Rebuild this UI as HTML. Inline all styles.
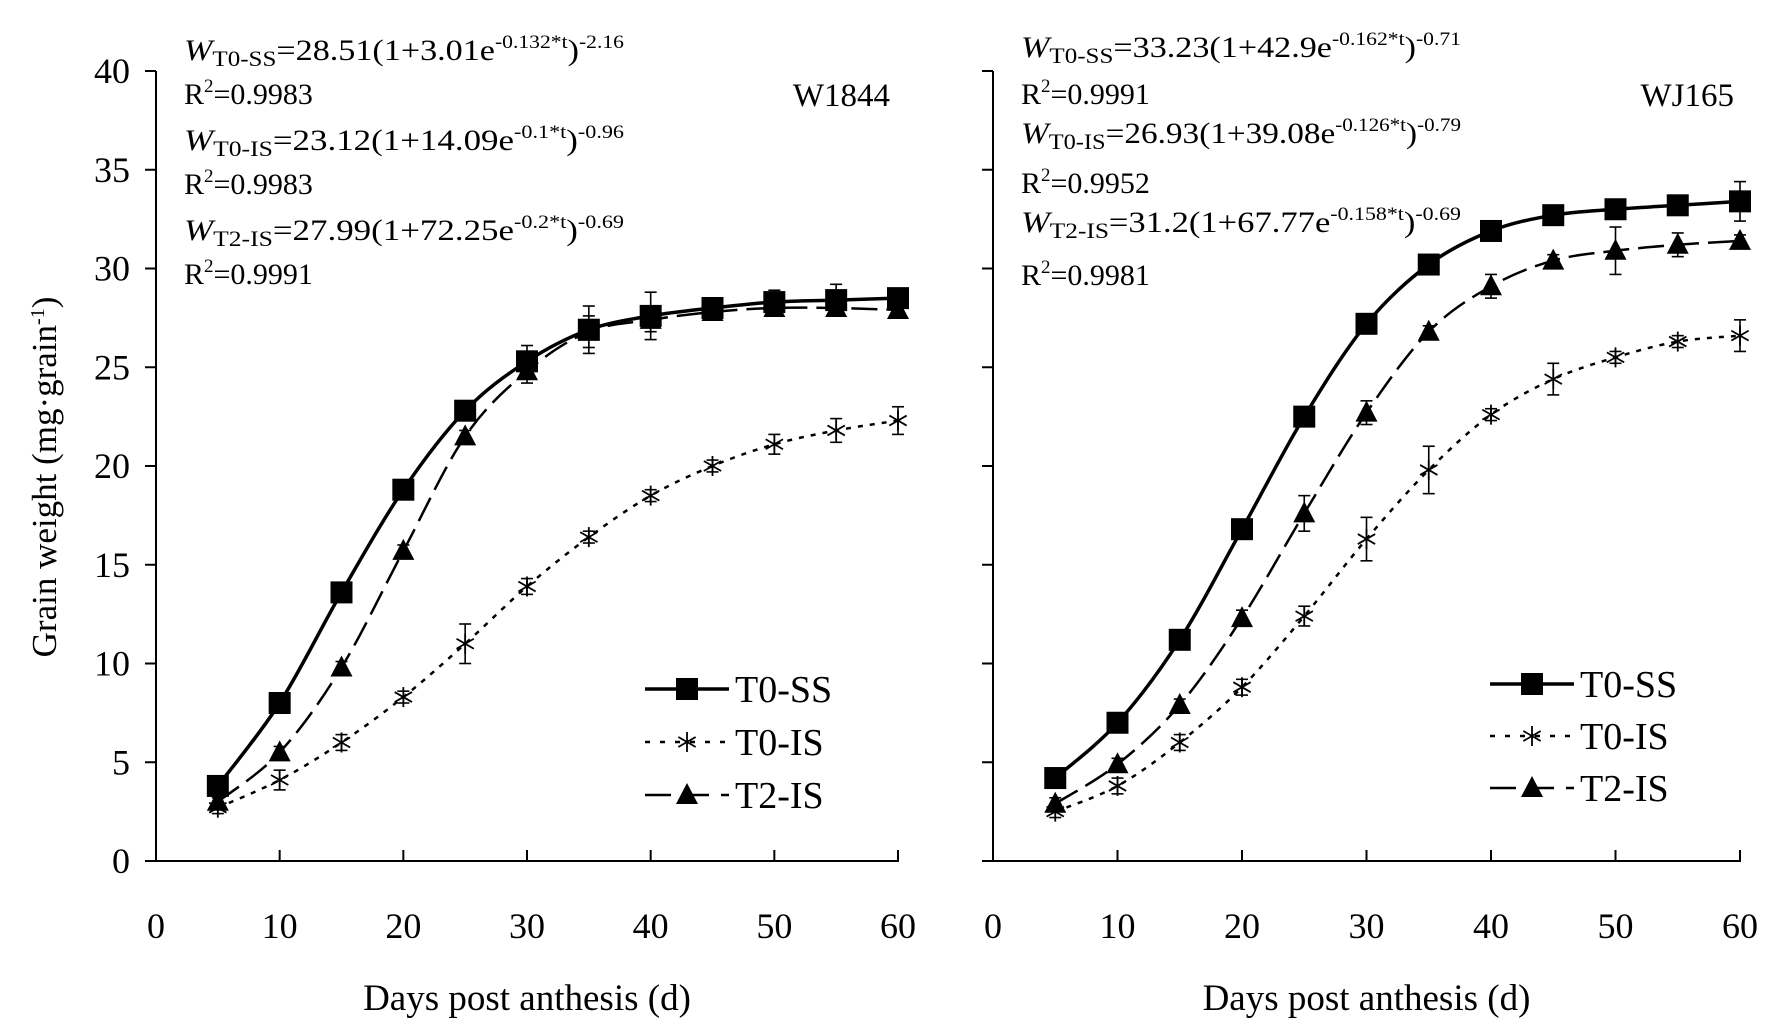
<!DOCTYPE html>
<html><head><meta charset="utf-8"><style>
html,body{margin:0;padding:0;background:#fff;}
svg{display:block;font-family:"Liberation Serif",serif;}
</style></head><body>
<svg id="chart" width="1772" height="1031" viewBox="0 0 1772 1031" xmlns="http://www.w3.org/2000/svg"></svg>
<script>
const days = [5,10,15,20,25,30,35,40,45,50,55,60];
const xTicks = [0,10,20,30,40,50,60];
const yTicks = [0,5,10,15,20,25,30,35,40];
// W1844
const w1844_T0SS = [3.8,8.0,13.6,18.8,22.8,25.3,26.9,27.6,28.0,28.3,28.4,28.5];
const w1844_T0SS_err = [0.3,0.3,0.3,0.4,0.3,0.8,1.2,1.2,0.4,0.6,0.8,0.4];
const w1844_T0IS = [2.7,4.1,6.0,8.3,11.0,13.9,16.4,18.5,20.0,21.1,21.8,22.3];
const w1844_T0IS_err = [0.3,0.5,0.4,0.3,1.0,0.4,0.3,0.3,0.3,0.5,0.6,0.7];
const w1844_T2IS = [3.0,5.5,9.8,15.7,21.5,24.8,26.8,27.4,27.8,28.0,28.0,27.9];
const w1844_T2IS_err = [0.2,0.3,0.3,0.3,0.3,0.6,0.8,0.6,0.3,0.3,0.3,0.3];
// WJ165
const wj165_T0SS = [4.2,7.0,11.2,16.8,22.5,27.2,30.2,31.9,32.7,33.0,33.2,33.4];
const wj165_T0SS_err = [0.2,0.2,0.4,0.4,0.4,0.3,0.3,0.3,0.2,0.2,0.2,1.0];
const wj165_T0IS = [2.5,3.8,6.0,8.8,12.4,16.3,19.8,22.6,24.4,25.5,26.3,26.6];
const wj165_T0IS_err = [0.3,0.4,0.4,0.4,0.5,1.1,1.2,0.3,0.8,0.3,0.3,0.8];
const wj165_T2IS = [2.9,4.9,7.9,12.3,17.6,22.7,26.8,29.1,30.4,30.9,31.2,31.4];
const wj165_T2IS_err = [0.3,0.3,0.3,0.4,0.9,0.6,0.3,0.6,0.3,1.2,0.6,0.3];

const NS="http://www.w3.org/2000/svg";
const svg=document.getElementById('chart');
function mk(tag,attrs,parent,name,inter){
  const e=document.createElementNS(NS,tag);
  for(const k in attrs) e.setAttribute(k,attrs[k]);
  
  
  (parent||svg).appendChild(e); return e;
}
function smoothPath(pts){
  let d=`M${pts[0][0]},${pts[0][1]}`;
  for(let i=0;i<pts.length-1;i++){
    const p0=pts[i-1]||pts[i],p1=pts[i],p2=pts[i+1],p3=pts[i+2]||p2;
    const c1=[p1[0]+(p2[0]-p0[0])/6,p1[1]+(p2[1]-p0[1])/6];
    const c2=[p2[0]-(p3[0]-p1[0])/6,p2[1]-(p3[1]-p1[1])/6];
    d+=` C${c1[0]},${c1[1]} ${c2[0]},${c2[1]} ${p2[0]},${p2[1]}`;
  }
  return d;
}
function marker(g,type,x,y,name){
  if(type==='sq') mk('rect',{x:x-11,y:y-11,width:22,height:22,fill:'#000'},g,name);
  else if(type==='tri') mk('polygon',{points:`${x},${y-12} ${x+11},${y+9} ${x-11},${y+9}`,fill:'#000'},g,name);
  else {
    const gg=mk('g',{stroke:'#000','stroke-width':1.8},g,name);
    for(const a of [90,30,150]){const r=a*Math.PI/180,dx=10*Math.cos(r),dy=10*Math.sin(r);
      mk('line',{x1:x-dx,y1:y-dy,x2:x+dx,y2:y+dy},gg,name+'-arm');}
  }
}
const styles={
  T0SS:{type:'sq',w:3.5,dash:''},
  T0IS:{type:'star',w:2.5,dash:'5 7'},
  T2IS:{type:'tri',w:2.5,dash:'26 9'}
};
function panel(cfg){
  const g=mk('g',{},svg,cfg.name);
  const X=v=>cfg.x0+(cfg.x1-cfg.x0)*v/60;
  const Y=v=>861-(861-71)*v/40;
  mk('line',{x1:cfg.x0,y1:71,x2:cfg.x0,y2:862,stroke:'#000','stroke-width':2},g,'y-axis');
  mk('line',{x1:cfg.x0-1,y1:861,x2:cfg.x1+1,y2:861,stroke:'#000','stroke-width':2},g,'x-axis');
  for(const t of yTicks){
    mk('line',{x1:cfg.x0-11,y1:Y(t),x2:cfg.x0,y2:Y(t),stroke:'#000','stroke-width':2},g,'y-tick');
    if(cfg.yLabels){const tx=mk('text',{x:cfg.x0-26,y:Y(t)+12,'text-anchor':'end','font-size':36},g,'y-tick-label');tx.textContent=t;}
  }
  for(const t of xTicks){
    if(t>0) mk('line',{x1:X(t),y1:861,x2:X(t),y2:850,stroke:'#000','stroke-width':2},g,'x-tick');
    const tx=mk('text',{x:X(t),y:938,'text-anchor':'middle','font-size':36},g,'x-tick-label');tx.textContent=t;
  }
  const xt=mk('text',{x:(cfg.x0+cfg.x1)/2,y:1010,'text-anchor':'middle','font-size':37},g,'x-axis-title');xt.textContent='Days post anthesis (d)';
  for(const s of cfg.series){
    const st=styles[s.key];
    const pts=days.map((d,i)=>[X(d),Y(s.vals[i])]);
    mk('path',{d:smoothPath(pts),fill:'none',stroke:'#000','stroke-width':st.w,'stroke-dasharray':st.dash},g,'line-'+s.key);
    days.forEach((d,i)=>{
      const x=X(d),yt=Y(s.vals[i]+s.err[i]),yb=Y(s.vals[i]-s.err[i]);
      const eg=mk('g',{stroke:'#000','stroke-width':1.6},g,'error-bar');
      mk('line',{x1:x,y1:yt,x2:x,y2:yb},eg,'error-bar-stem');
      mk('line',{x1:x-6,y1:yt,x2:x+6,y2:yt},eg,'error-bar-cap');
      mk('line',{x1:x-6,y1:yb,x2:x+6,y2:yb},eg,'error-bar-cap');
      marker(g,st.type,x,Y(s.vals[i]),'point-'+s.key);
    });
  }
  const labels={T0SS:'T0-SS',T0IS:'T0-IS',T2IS:'T2-IS'};
  ['T0SS','T0IS','T2IS'].forEach((k,i)=>{
    const st=styles[k];const y=cfg.legY[i];
    const lg=mk('g',{},g,'legend-entry-'+k);
    mk('line',{x1:cfg.legX,y1:y,x2:cfg.legX+84,y2:y,stroke:'#000','stroke-width':st.w,'stroke-dasharray':k==='T0IS'?'5 10':(k==='T2IS'?'26 12':'')},lg,'legend-line');
    marker(lg,st.type,cfg.legX+42,y,'legend-marker');
    const t=mk('text',{x:cfg.legX+90,y:y+13,'font-size':38},lg,'legend-label');t.textContent=labels[k];
  });
  const tl=mk('text',{x:cfg.titleX,y:106,'text-anchor':'end','font-size':33},g,'panel-title');tl.textContent=cfg.title;
  cfg.eqs.forEach((e,i)=>{
    const y=cfg.eqY[i];
    const t=mk('text',{x:cfg.x0+28,y:y,'font-size':30},g,i%2?'r-squared':'equation');
    if(i%2===0){
      t.setAttribute('textLength',cfg.eqW);t.setAttribute('lengthAdjust','spacingAndGlyphs');
      t.innerHTML=`<tspan font-style="italic">W</tspan><tspan font-size="22" dy="6">${e[0]}</tspan><tspan dy="-6">=${e[1]}e</tspan><tspan font-size="19" dy="-12">${e[2]}</tspan><tspan dy="12">)</tspan><tspan font-size="19" dy="-12">${e[3]}</tspan>`;
    } else {
      t.innerHTML=`R<tspan font-size="19" dy="-12">2</tspan><tspan dy="12">=${e}</tspan>`;
    }
  });
}
panel({name:'panel-w1844',x0:156,x1:898,yLabels:true,title:'W1844',titleX:890,
  legX:645,legY:[689,742,795],eqW:440,eqY:[60,104,150,194,240,284],
  eqs:[['T0-SS','28.51(1+3.01','-0.132*t','-2.16'],'0.9983',['T0-IS','23.12(1+14.09','-0.1*t','-0.96'],'0.9983',['T2-IS','27.99(1+72.25','-0.2*t','-0.69'],'0.9991'],
  series:[{key:'T0SS',vals:w1844_T0SS,err:w1844_T0SS_err},{key:'T0IS',vals:w1844_T0IS,err:w1844_T0IS_err},{key:'T2IS',vals:w1844_T2IS,err:w1844_T2IS_err}]});
panel({name:'panel-wj165',x0:993,x1:1740,yLabels:false,title:'WJ165',titleX:1734,
  legX:1490,legY:[684,736,788],eqW:440,eqY:[57,104,143,193,232,285],
  eqs:[['T0-SS','33.23(1+42.9','-0.162*t','-0.71'],'0.9991',['T0-IS','26.93(1+39.08','-0.126*t','-0.79'],'0.9952',['T2-IS','31.2(1+67.77','-0.158*t','-0.69'],'0.9981'],
  series:[{key:'T0SS',vals:wj165_T0SS,err:wj165_T0SS_err},{key:'T0IS',vals:wj165_T0IS,err:wj165_T0IS_err},{key:'T2IS',vals:wj165_T2IS,err:wj165_T2IS_err}]});
const yt=mk('text',{x:0,y:0,'text-anchor':'middle','font-size':35,transform:'translate(56,477) rotate(-90)'},svg,'y-axis-title');
yt.innerHTML='Grain weight (mg·grain<tspan font-size="20" dy="-12">-1</tspan><tspan dy="12">)</tspan>';
</script>
</body></html>
